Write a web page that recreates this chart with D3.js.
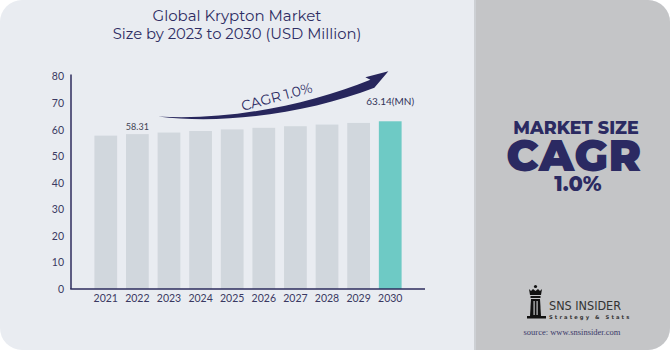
<!DOCTYPE html>
<html>
<head>
<meta charset="utf-8">
<script src="https://cdn.jsdelivr.net/npm/d3@7"></script>
<style>
  html, body { margin: 0; padding: 0; background: #ffffff; }
  svg { display: block; }
</style>
</head>
<body>
<div id="chart"></div>
<script>
// ---- data ----
const years = ["2021", "2022", "2023", "2024", "2025", "2026", "2027", "2028", "2029", "2030"];
const values = [57.73, 58.31, 58.89, 59.48, 60.08, 60.68, 61.28, 61.90, 62.51, 63.14];
const yTicks = [0, 10, 20, 30, 40, 50, 60, 70, 80];
const titleLines = ["Global Krypton Market", "Size by 2023 to 2030 (USD Million)"];
const cagrText = "CAGR 1.0%";
const firstLabel = "58.31";
const lastLabel = "63.14(MN)";

const W = 670, H = 350;
const navy = "#2b2a62";

const svg = d3.select("#chart").append("svg").attr("width", W).attr("height", H);

// card background with rounded corners
const defs = svg.append("defs");
defs.append("clipPath").attr("id", "card")
  .append("rect").attr("x", 0).attr("y", 0).attr("width", W).attr("height", H).attr("rx", 22).attr("ry", 22);
const card = svg.append("g").attr("clip-path", "url(#card)");
card.append("rect").attr("x", 0).attr("y", 0).attr("width", W).attr("height", H).attr("fill", "#e9ecf1");
card.append("rect").attr("x", 474).attr("y", 0).attr("width", W - 474).attr("height", H).attr("fill", "#c4c5c7");
card.append("rect").attr("x", 474).attr("y", 0).attr("width", 2).attr("height", H).attr("fill", "#cdd0d4");

// title
svg.append("text").attr("x", 237).attr("y", 21).attr("text-anchor", "middle")
  .attr("font-family", "Montserrat, 'Open Sans', sans-serif").attr("font-size", 15).attr("fill", "#2e2d63")
  .text(titleLines[0]);
svg.append("text").attr("x", 237).attr("y", 38.5).attr("text-anchor", "middle")
  .attr("font-family", "Montserrat, 'Open Sans', sans-serif").attr("font-size", 14.8).attr("fill", "#2e2d63")
  .text(titleLines[1]);

// scales
const x = d3.scaleBand().domain(years).range([71, 425]).paddingInner(0.28).paddingOuter(0.74);
const y = d3.scaleLinear().domain([0, 80]).range([289, 76.5]);

// bars
svg.append("g").selectAll("rect").data(years).join("rect")
  .attr("x", d => x(d))
  .attr("y", (d, i) => y(values[i]))
  .attr("width", x.bandwidth())
  .attr("height", (d, i) => y(0) - y(values[i]))
  .attr("fill", (d, i) => i === years.length - 1 ? "#6ecac5" : "#d1d7dd");

// y axis
const yAxis = svg.append("g").attr("transform", "translate(71,0)")
  .call(d3.axisLeft(y).tickValues(yTicks).tickSize(0).tickPadding(7));
yAxis.select(".domain").remove();
yAxis.selectAll("text").attr("font-family", "Lato, sans-serif").attr("font-size", 10.5).attr("fill", "#3a3962");
svg.append("line").attr("x1", 71).attr("x2", 71).attr("y1", 74.5).attr("y2", y(0))
  .attr("stroke", "#2d2c5c").attr("stroke-width", 1.5);

// x axis
const xAxis = svg.append("g").attr("transform", `translate(0,${y(0)})`)
  .call(d3.axisBottom(x).tickSize(0).tickPadding(6));
xAxis.select(".domain").remove();
xAxis.selectAll("text").attr("font-family", "Lato, sans-serif").attr("font-size", 10.5).attr("fill", "#3a3962");
svg.append("line").attr("x1", 70.25).attr("x2", 425).attr("y1", y(0)).attr("y2", y(0))
  .attr("stroke", "#2d2c5c").attr("stroke-width", 1.5);

// value labels
svg.append("text").attr("x", x(years[1]) + x.bandwidth() / 2).attr("y", y(values[1]) - 4)
  .attr("text-anchor", "middle").attr("font-family", "Lato, sans-serif").attr("font-size", 9)
  .attr("fill", "#444455").text(firstLabel);
svg.append("text").attr("x", x(years[9]) + x.bandwidth() / 2).attr("y", y(values[9]) - 16)
  .attr("text-anchor", "middle").attr("font-family", "Lato, sans-serif").attr("font-size", 10)
  .attr("fill", "#33335a").text(lastLabel);

// CAGR swoosh arrow, anchored to scales
const sx = x(years[2]) + 0.5;            // start of swoosh
const sy = y(64.9);
const tx = x(years[9]) + 9.5;            // arrow tip
const ty = y(82);
const path = d3.path();
path.moveTo(sx, sy);
path.bezierCurveTo(sx + 72, sy + 8.5, tx - 77, ty + 40.5, tx - 14, ty + 16.5);   // lower edge
path.lineTo(tx, ty);                                                               // tip
path.lineTo(tx - 23, ty + 6);                                                      // upper barb
path.lineTo(tx - 18, ty + 8.5);
path.bezierCurveTo(tx - 77, ty + 32.5, sx + 72, sy + 4.5, sx, sy);                 // upper edge back
path.closePath();
svg.append("path").attr("d", path.toString()).attr("fill", "#27265c");

svg.append("text").attr("transform", "translate(278,101.5) rotate(-15)")
  .attr("text-anchor", "middle").attr("font-family", "Montserrat, 'Open Sans', sans-serif")
  .attr("font-size", 14).attr("fill", "#2b2a62").text(cagrText);

// right panel text
svg.append("text").attr("x", 576).attr("y", 134).attr("text-anchor", "middle")
  .attr("font-family", "Montserrat, 'Open Sans', sans-serif").attr("font-weight", 800)
  .attr("font-size", 17.5).attr("fill", navy).text("MARKET SIZE");
svg.append("text").attr("x", 574).attr("y", 171).attr("text-anchor", "middle")
  .attr("font-family", "Montserrat, 'Open Sans', sans-serif").attr("font-weight", 900)
  .attr("font-size", 44).attr("letter-spacing", 0.5).attr("fill", navy).text("CAGR");
svg.append("text").attr("x", 578).attr("y", 191).attr("text-anchor", "middle")
  .attr("font-family", "Montserrat, 'Open Sans', sans-serif").attr("font-weight", 800)
  .attr("font-size", 21).attr("fill", navy).text("1.0%");

// logo
const logo = svg.append("g").attr("fill", "#111111");
logo.append("circle").attr("cx", 535.5).attr("cy", 286.5).attr("r", 1.6);
logo.append("path").attr("d", "M529,289 L531,291 L533,289 L535.5,291 L538,289 L540,291 L542,289 L541,295 L530,295 Z");
logo.append("rect").attr("x", 530.5).attr("y", 296).attr("width", 10).attr("height", 2);
logo.append("path").attr("d", "M531,299 L540,299 L541,316 L530,316 Z");
logo.append("rect").attr("x", 527).attr("y", 316).attr("width", 19).attr("height", 2.5);
logo.append("rect").attr("x", 533.5).attr("y", 301).attr("width", 1.2).attr("height", 14).attr("fill", "#c4c5c7");
logo.append("rect").attr("x", 536.5).attr("y", 301).attr("width", 1.2).attr("height", 14).attr("fill", "#c4c5c7");
svg.append("text").attr("x", 549).attr("y", 309.5)
  .attr("font-family", "'DejaVu Sans Condensed', 'Liberation Sans Narrow', sans-serif")
  .attr("font-size", 12.5).attr("fill", "#333333").text("SNS INSIDER");
svg.append("text").attr("x", 549).attr("y", 318.5)
  .attr("font-family", "'DejaVu Sans', sans-serif").attr("font-weight", "bold")
  .attr("font-size", 5.2).attr("letter-spacing", 2.1).attr("fill", "#333333").text("Strategy & Stats");
svg.append("text").attr("x", 572).attr("y", 335).attr("text-anchor", "middle")
  .attr("font-family", "'Liberation Serif', serif").attr("font-size", 8.5)
  .attr("fill", "#3b3a6a").text("source: www.snsinsider.com");
</script>
</body>
</html>
